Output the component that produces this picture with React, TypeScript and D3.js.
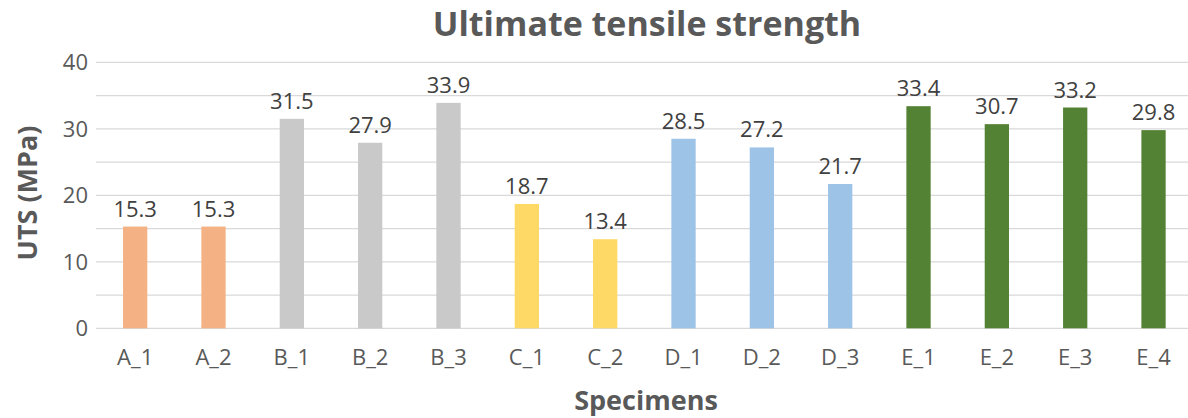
import React from "react";
import * as d3 from "d3";

const categories = ["A_1", "A_2", "B_1", "B_2", "B_3", "C_1", "C_2", "D_1", "D_2", "D_3", "E_1", "E_2", "E_3", "E_4"];
const groups = ["A", "A", "B", "B", "B", "C", "C", "D", "D", "D", "E", "E", "E", "E"];
const values = [15.3, 15.3, 31.5, 27.9, 33.9, 18.7, 13.4, 28.5, 27.2, 21.7, 33.4, 30.7, 33.2, 29.8];
const groupColors: Record<string, string> = {
  A: "#F4B183",
  B: "#C9C9C9",
  C: "#FFD966",
  D: "#9DC3E6",
  E: "#548235",
};
const yTicks = [0, 10, 20, 30, 40];
const gridTicks = [0, 5, 10, 15, 20, 25, 30, 35, 40];

const W = 1188;
const H = 418;
const FONT = "'Open Sans', Lato, sans-serif";

export default function App() {
  const x = d3
    .scaleBand<string>()
    .domain(categories)
    .range([96, 1192.7])
    .paddingInner(0.69)
    .paddingOuter(0.345);
  const y = d3.scaleLinear().domain([0, 40]).range([328.3, 62.3]);

  return (
    <svg
      width={W}
      height={H}
      style={{ position: "absolute", left: 0, top: 0, background: "#fff" }}
      fontFamily={FONT}
    >
      <text x={647} y={36} textAnchor="middle" fontSize={34} fontWeight="bold" fill="#595959">
        Ultimate tensile strength
      </text>

      {gridTicks.map((t) => (
        <line key={t} x1={96} x2={W} y1={y(t)} y2={y(t)} stroke="#D9D9D9" strokeWidth={1.3} />
      ))}

      {yTicks.map((t) => (
        <text key={t} x={88} y={y(t)} dy="0.36em" textAnchor="end" fontSize={22} fill="#595959">
          {t}
        </text>
      ))}

      {categories.map((c, i) => (
        <g key={c}>
          <rect
            x={x(c)!}
            y={y(values[i])}
            width={x.bandwidth()}
            height={y(0) - y(values[i])}
            fill={groupColors[groups[i]]}
          />
          <text
            x={x(c)! + x.bandwidth() / 2}
            y={y(values[i]) - 10}
            textAnchor="middle"
            fontSize={22}
            fill="#404040"
          >
            {values[i].toFixed(1)}
          </text>
          <text x={x(c)! + x.bandwidth() / 2} y={365} textAnchor="middle" fontSize={22} fill="#595959">
            {c}
          </text>
        </g>
      ))}

      <text x={646} y={410} textAnchor="middle" fontSize={27} fontWeight="bold" fill="#595959">
        Specimens
      </text>
      <text
        transform={`translate(37, 193) rotate(-90)`}
        textAnchor="middle"
        fontSize={27}
        fontWeight="bold"
        fill="#595959"
      >
        UTS (MPa)
      </text>
    </svg>
  );
}
